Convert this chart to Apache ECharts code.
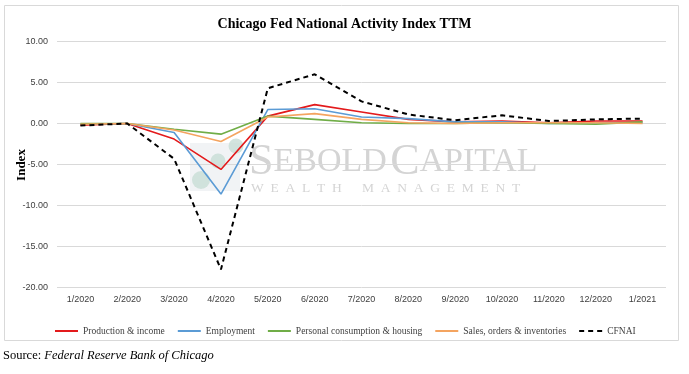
<!DOCTYPE html>
<html><head><meta charset="utf-8">
<script src="https://cdn.jsdelivr.net/npm/echarts@6/dist/echarts.min.js"></script>
<style>html,body{margin:0;padding:0;background:#fff;}#c{width:689px;height:374px;}</style>
</head><body><div id="c"></div>
<script>
const categories = ['1/2020','2/2020','3/2020','4/2020','5/2020','6/2020','7/2020','8/2020','9/2020','10/2020','11/2020','12/2020','1/2021'];
const production = [-0.2, 0.0, -1.9, -5.6, 0.9, 2.3, 1.4, 0.5, 0.2, 0.3, 0.1, 0.3, 0.3];
const employment = [-0.1, 0.0, -1.1, -8.6, 1.7, 1.8, 0.8, 0.6, 0.2, 0.2, 0.0, 0.1, 0.1];
const consumption = [0.0, 0.0, -0.7, -1.3, 0.9, 0.5, 0.1, 0.0, 0.0, 0.1, 0.0, -0.1, 0.2];
const sales = [-0.1, 0.0, -0.8, -2.2, 0.8, 1.2, 0.5, 0.1, 0.0, 0.1, 0.1, 0.1, 0.0];
const cfnai = [-0.25, 0.0, -4.3, -17.8, 4.3, 6.0, 2.7, 1.1, 0.4, 1.0, 0.3, 0.5, 0.6];
const yTicks = {min: -20, max: 10, interval: 5};

const chart = echarts.init(document.getElementById('c'));
const serif = '"Liberation Serif", "DejaVu Serif", serif';
const sans = '"Liberation Sans", "DejaVu Sans", sans-serif';
function line(name, data, color, dash) {
  return {name, type: 'line', data, symbol: 'none', z: dash ? 5 : 3,
    lineStyle: {color, width: dash ? 2 : 1.6, type: dash ? [5, 4] : 'solid'},
    itemStyle: {color}};
}
chart.setOption({
  animation: false,
  title: {text: 'Chicago Fed National Activity Index TTM', left: 'center', top: 12,
    textStyle: {fontFamily: serif, fontSize: 14, fontWeight: 'bold', color: '#000'}},
  grid: {left: 57, right: 23, top: 41.5, bottom: 86.5, outerBoundsMode: 'none', containLabel: false},
  xAxis: {type: 'category', data: categories, boundaryGap: true,
    axisLine: {show: false}, axisTick: {show: false},
    axisLabel: {fontFamily: sans, fontSize: 9, color: '#404040', margin: 8}},
  yAxis: {type: 'value', min: yTicks.min, max: yTicks.max, interval: yTicks.interval,
    axisLine: {show: false}, axisTick: {show: false},
    axisLabel: {fontFamily: sans, fontSize: 9, color: '#404040', margin: 9,
      formatter: v => v.toFixed(2)},
    splitLine: {lineStyle: {color: '#d9d9d9', width: 1}}},
  legend: {top: 321, left: 49, itemWidth: 23, itemHeight: 10, itemGap: 12,
    itemStyle: {opacity: 0},
    textStyle: {fontFamily: serif, fontSize: 9.5, color: '#404040'},
    data: ['Production & income','Employment','Personal consumption & housing','Sales, orders & inventories','CFNAI']},
  graphic: [
    {type: 'rect', shape: {x: 4.5, y: 5.5, width: 674, height: 335}, silent: true, z: -10,
      style: {fill: 'none', stroke: '#d9d9d9', lineWidth: 1}},
    {type: 'text', x: 22, y: 165, rotation: Math.PI / 2, silent: true,
      style: {text: 'Index', align: 'center', verticalAlign: 'middle',
        font: 'bold 13px "Liberation Serif", serif', fill: '#000'}},
    {type: 'rect', shape: {x: 190, y: 143, width: 50, height: 48}, z: -6, silent: true, style: {fill: '#eef0f3', opacity: 0.8}},
    {type: 'circle', shape: {cx: 201, cy: 180, r: 9}, z: -5, silent: true, style: {fill: '#c8ddd6', opacity: 0.8}},
    {type: 'circle', shape: {cx: 218, cy: 161, r: 7.5}, z: -5, silent: true, style: {fill: '#c8ddd6', opacity: 0.8}},
    {type: 'circle', shape: {cx: 236, cy: 146, r: 7.5}, z: -5, silent: true, style: {fill: '#c8ddd6', opacity: 0.8}},
    {type: 'text', left: 249, top: 140, z: -5, silent: true,
      style: {text: '{a|S}{b|EBOLD} {a|C}{b|APITAL}', fill: '#d4d4d4',
        rich: {a: {fontFamily: serif, fontSize: 44, fill: '#d4d4d4'},
               b: {fontFamily: serif, fontSize: 34, fill: '#d4d4d4'}}}},
    {type: 'text', left: 251, top: 181, z: -5, silent: true,
      style: {text: 'W  E  A  L  T  H      M  A  N  A  G  E  M  E  N  T', font: '13.5px "Liberation Serif", serif', fill: '#d4d4d4'}},
    {type: 'text', left: 3, top: 349, silent: true,
      style: {text: '{a|Source: }{b|Federal Reserve Bank of Chicago}',
        rich: {a: {fontFamily: serif, fontSize: 12.5, fill: '#000'},
               b: {fontFamily: serif, fontSize: 12.5, fontStyle: 'italic', fill: '#000'}}}}
  ],
  series: [
    line('Production & income', production, '#e31a1c', false),
    line('Employment', employment, '#5b9bd5', false),
    line('Personal consumption & housing', consumption, '#70ad47', false),
    line('Sales, orders & inventories', sales, '#f4a460', false),
    line('CFNAI', cfnai, '#000000', true)
  ]
});
</script></body></html>
